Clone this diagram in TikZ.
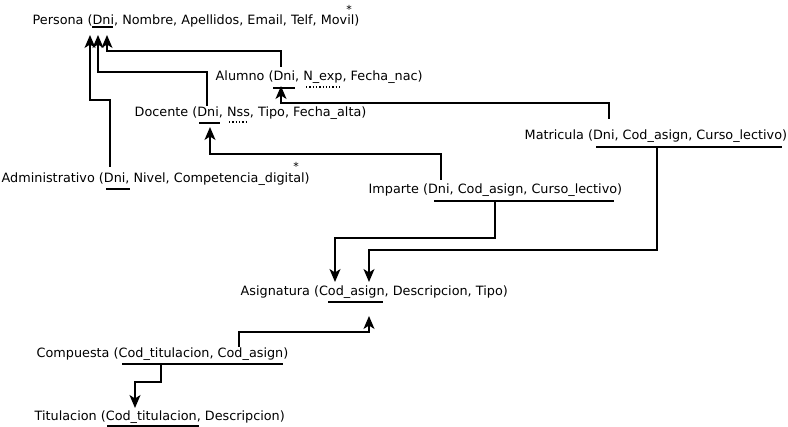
\documentclass[tikz,border=0pt]{standalone}
\usepackage{fontspec}
\setmainfont{DejaVu Sans}
\usetikzlibrary{arrows.meta,calc}

\begin{document}
\begin{tikzpicture}[x=1pt, y=-1pt, line width=1.4pt,
    every node/.style={inner sep=0pt, anchor=base west, font=\fontsize{12.8}{15}\selectfont},
    fk/.style={-{Stealth[length=13pt,width=11pt,inset=3.5pt]}},
    pkline/.style={line width=1.3pt},
    akline/.style={line width=1.3pt, dotted}]
    \useasboundingbox (0,0) rectangle (788,427);

    % Tables
    \node (persona) at (32,25) {Persona (Dni, Nombre, Apellidos, Email, Telf, Movil)};
    \node (alumno) at (215,81) {Alumno (Dni, N\_exp, Fecha\_nac)};
    \node (docente) at (134,117) {Docente (Dni, Nss, Tipo, Fecha\_alta)};
    \node (administrativo) at (1,183) {Administrativo (Dni, Nivel, Competencia\_digital)};
    \node (matricula) at (524,140) {Matricula (Dni, Cod\_asign, Curso\_lectivo)};
    \node (imparte) at (368,194) {Imparte (Dni, Cod\_asign, Curso\_lectivo)};
    \node (asignatura) at (240,296) {Asignatura (Cod\_asign, Descripcion, Tipo)};
    \node (compuesta) at (36,358) {Compuesta (Cod\_titulacion, Cod\_asign)};
    \node (titulacion) at (34,421) {Titulacion (Cod\_titulacion, Descripcion)};

    % Multiplicity marks
    \node[anchor=center, font=\fontsize{11}{12}\selectfont] (starPer) at (349,9) {*};
    \node[anchor=center, font=\fontsize{11}{12}\selectfont] (starDoc) at (296,166) {*};

    % Keys
    \draw[pkline] (92,27) -- (113,27);
    \draw[pkline] (273,88) -- (295,88);
    \draw[akline] (306,87) -- (340,87);
    \draw[pkline] (199,123) -- (220,123);
    \draw[akline] (229,122) -- (247,122);
    \draw[pkline] (106,189) -- (130,189);
    \draw[pkline] (596,147) -- (782,147);
    \draw[pkline] (434,201) -- (614,201);
    \draw[pkline] (328,302) -- (383,302);
    \draw[pkline] (122,364) -- (283,364);
    \draw[pkline] (107,426) -- (199,426);

    % Connection points
    \coordinate (perA) at (90,35);
    \coordinate (perB) at (98,35);
    \coordinate (perC) at (107,35);
    \coordinate (aluIn) at (281,86);
    \coordinate (docIn) at (210,127);
    \coordinate (asiA) at (335,282);
    \coordinate (asiB) at (369,282);
    \coordinate (asiC) at (369,316);
    \coordinate (titIn) at (135,408);
    \coordinate (admOut) at (110,167);
    \coordinate (docOut) at (207,106);
    \coordinate (aluOut) at (281,67);
    \coordinate (matOut) at (609,119);
    \coordinate (matKey) at (657,147);
    \coordinate (impOut) at (441,180);
    \coordinate (impKey) at (495,201);
    \coordinate (comOut) at (239,347);
    \coordinate (comKey) at (161,364);

    % Connections
    \draw[fk] (admOut) -- ++(0,-67) -| (perA);
    \draw[fk] (docOut) -- ++(0,-34) -| (perB);
    \draw[fk] (aluOut) -- ++(0,-16) -| (perC);
    \draw[fk] (matOut) -- ++(0,-16) -| (aluIn);
    \draw[fk] (impOut) -- ++(0,-26) -| (docIn);
    \draw[fk] (matKey) -- ++(0,103) -| (asiB);
    \draw[fk] (impKey) -- ++(0,37) -| (asiA);
    \draw[fk] (comOut) -- ++(0,-15) -| (asiC);
    \draw[fk] (comKey) -- ++(0,18) -| (titIn);
\end{tikzpicture}
\end{document}
